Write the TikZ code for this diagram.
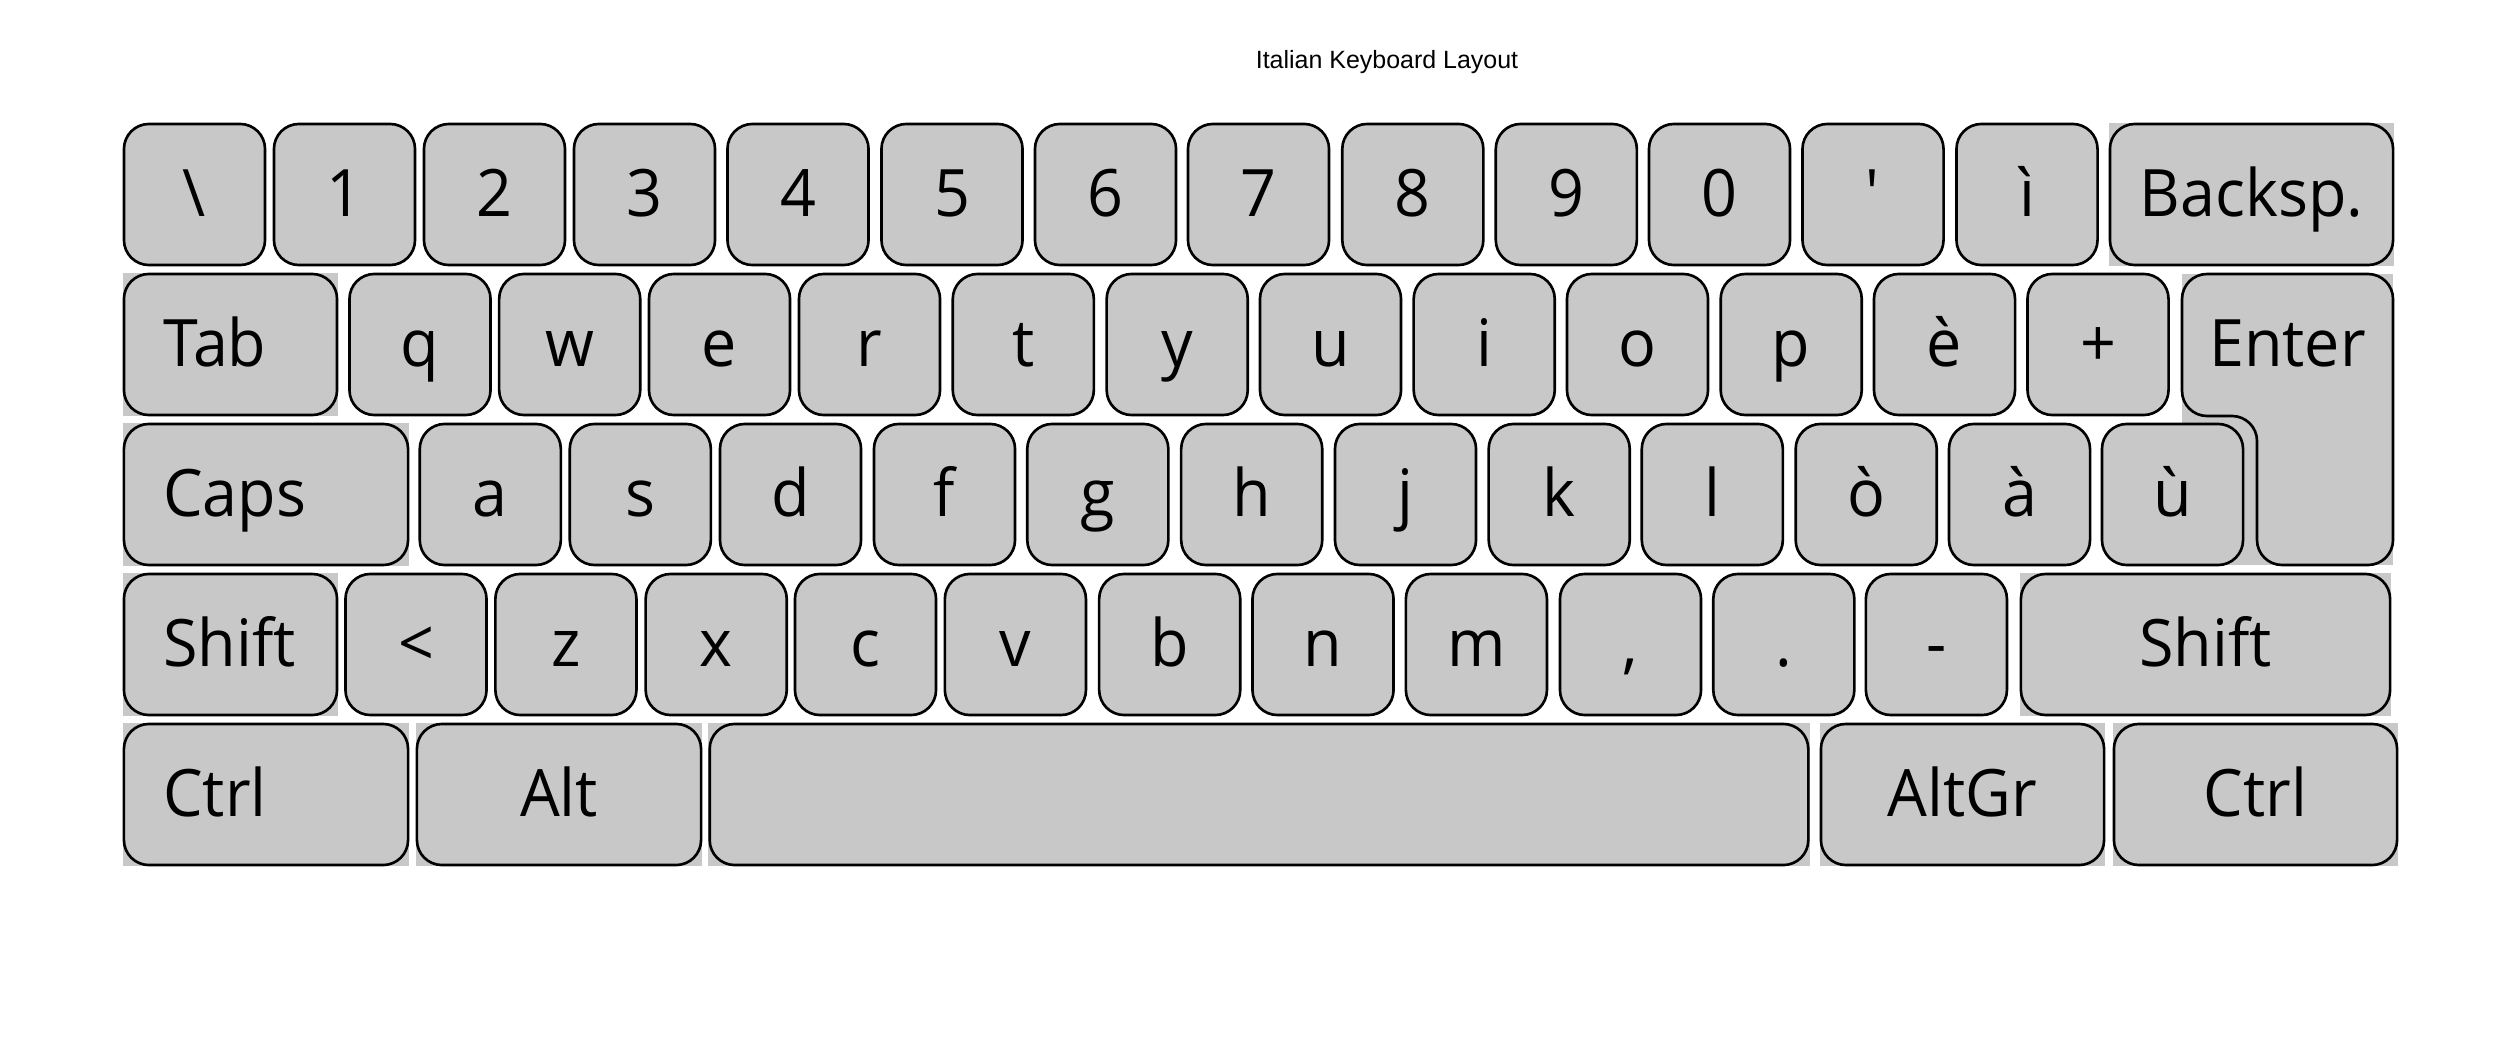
\documentclass[tikz,border=0pt]{standalone}
\usepackage{fontspec}
\usepackage{tikz}
\usetikzlibrary{positioning,backgrounds}
\newfontfamily\keyfont[FakeStretch=0.96]{Open Sans}
\newfontfamily\titlefont{Liberation Sans}
\definecolor{keygray}{HTML}{C8C8C8}

\begin{document}
\begin{tikzpicture}[
  x=0.01cm, y=-0.01cm,
  keycap/.style={
    rectangle,
    rounded corners=0.25cm,
    draw=black,
    line width=0.75pt,
    fill=keygray,
    inner sep=0pt,
    minimum width=1.41cm,
    minimum height=1.41cm,
    font=\keyfont\fontsize{18.6}{22}\selectfont,
    text height=0.46cm,
    text depth=0.03cm
  },
  keylabel/.style={
    inner sep=0pt,
    font=\keyfont\fontsize{18.6}{22}\selectfont,
    text height=0.46cm,
    text depth=0.03cm
  },
  enterkey/.style={
    rounded corners=0.25cm,
    draw=black,
    line width=0.75pt,
    fill=keygray
  },
  keyback/.style={fill=keygray},
  titletext/.style={
    anchor=base,
    inner sep=0pt,
    font=\titlefont\fontsize{7.1}{8.5}\selectfont
  }
]
\useasboundingbox (0,0) rectangle (2500,1040);

\node[titletext] (title) at (1387,68.3) {Italian Keyboard Layout};

% number row
\node[keycap] (kbslash) at (194.5,194.5) {\textbackslash};
\node[keycap] (k1) at (344.5,194.5) {1};
\node[keycap] (k2) at (494.5,194.5) {2};
\node[keycap] (k3) at (644.5,194.5) {3};
\node[keycap] (k4) at (798,194.5) {4};
\node[keycap] (k5) at (952,194.5) {5};
\node[keycap] (k6) at (1105.5,194.5) {6};
\node[keycap] (k7) at (1258.5,194.5) {7};
\node[keycap] (k8) at (1412.8,194.5) {8};
\node[keycap] (k9) at (1566.3,194.5) {9};
\node[keycap] (k0) at (1719.5,194.5) {0};
\node[keycap] (kquote) at (1873,194.5) {\textquotesingle};
\node[keycap] (kigrave) at (2027,194.5) {ì};
\node[keycap, minimum width=2.83cm] (kbacksp) at (2251.5,194.5) {Backsp.};

% top letter row
\node[keycap, minimum width=2.13cm] (ktab) at (230.5,344.5) {};
\node[keylabel, right=0.4cm of ktab.west] (ktablabel) {Tab};
\node[keycap] (kq) at (420,344.5) {q};
\node[keycap] (kw) at (569.7,344.5) {w};
\node[keycap] (ke) at (719.5,344.5) {e};
\node[keycap] (kr) at (869.5,344.5) {r};
\node[keycap] (kt) at (1023.3,344.5) {t};
\node[keycap] (ky) at (1177.2,344.5) {y};
\node[keycap] (ku) at (1330.5,344.5) {u};
\node[keycap] (ki) at (1484.2,344.5) {i};
\node[keycap] (ko) at (1637.5,344.5) {o};
\node[keycap] (kp) at (1791.2,344.5) {p};
\node[keycap] (kegrave) at (1944.5,344.5) {è};
\node[keycap] (kplus) at (2098,344.5) {+};

% enter key, L-shaped
\coordinate (enterNW) at (2182,274);
\coordinate (enterNE) at (2393,274);
\coordinate (enterSE) at (2393,565);
\coordinate (enterSW) at (2257,565);
\coordinate (enterIn) at (2257,416);
\coordinate (enterW) at (2182,416);
\draw[enterkey] (enterNW) -- (enterNE) -- (enterSE) -- (enterSW) -- (enterIn) -- (enterW) -- cycle;
\node[keylabel] (kenterlabel) at (2287.5,344.5) {Enter};

% home row
\node[keycap, minimum width=2.84cm] (kcaps) at (266,494.5) {};
\node[keylabel, right=0.4cm of kcaps.west] (kcapslabel) {Caps};
\node[keycap] (ka) at (490.3,494.5) {a};
\node[keycap] (ks) at (640.3,494.5) {s};
\node[keycap] (kd) at (790.5,494.5) {d};
\node[keycap] (kf) at (944.5,494.5) {f};
\node[keycap] (kg) at (1097.8,494.5) {g};
\node[keycap] (kh) at (1251.7,494.5) {h};
\node[keycap] (kj) at (1405.5,494.5) {j};
\node[keycap] (kk) at (1559.2,494.5) {k};
\node[keycap] (kl) at (1712.3,494.5) {l};
\node[keycap] (kograve) at (1866.2,494.5) {ò};
\node[keycap] (kagrave) at (2019.5,494.5) {à};
\node[keycap] (kugrave) at (2172.5,494.5) {ù};

% bottom letter row
\node[keycap, minimum width=2.13cm] (klshift) at (230.5,644.5) {};
\node[keylabel, right=0.4cm of klshift.west] (klshiftlabel) {Shift};
\node[keycap] (kless) at (416,644.5) {<};
\node[keycap] (kz) at (565.9,644.5) {z};
\node[keycap] (kx) at (716.2,644.5) {x};
\node[keycap] (kc) at (865.5,644.5) {c};
\node[keycap] (kv) at (1015.4,644.5) {v};
\node[keycap] (kb) at (1169.7,644.5) {b};
\node[keycap] (kn) at (1323,644.5) {n};
\node[keycap] (km) at (1476.4,644.5) {m};
\node[keycap] (kcomma) at (1630.5,644.5) {,};
\node[keycap] (kdot) at (1783.8,644.5) {.};
\node[keycap] (kminus) at (1936.4,644.5) {-};
\node[keycap, minimum width=3.69cm] (krshift) at (2205.5,644.5) {Shift};

% space row
\node[keycap, minimum width=2.84cm] (klctrl) at (266,794.5) {};
\node[keylabel, right=0.4cm of klctrl.west] (klctrllabel) {Ctrl};
\node[keycap, minimum width=2.84cm] (kalt) at (559,794.5) {Alt};
\node[keycap, minimum width=10.98cm] (kspace) at (1259,794.5) {};
\node[keycap, minimum width=2.83cm] (kaltgr) at (1962.5,794.5) {AltGr};
\node[keycap, minimum width=2.83cm] (krctrl) at (2255.5,794.5) {Ctrl};

% square backs of the wide keys
\begin{scope}[on background layer]
\fill[keyback] (kbacksp.south west) rectangle (kbacksp.north east);
\fill[keyback] (ktab.south west) rectangle (ktab.north east);
\fill[keyback] (enterNW) rectangle (enterSE);
\fill[keyback] (kcaps.south west) rectangle (kcaps.north east);
\fill[keyback] (klshift.south west) rectangle (klshift.north east);
\fill[keyback] (krshift.south west) rectangle (krshift.north east);
\fill[keyback] (klctrl.south west) rectangle (klctrl.north east);
\fill[keyback] (kalt.south west) rectangle (kalt.north east);
\fill[keyback] (kspace.south west) rectangle (kspace.north east);
\fill[keyback] (kaltgr.south west) rectangle (kaltgr.north east);
\fill[keyback] (krctrl.south west) rectangle (krctrl.north east);
\end{scope}

\end{tikzpicture}
\end{document}
